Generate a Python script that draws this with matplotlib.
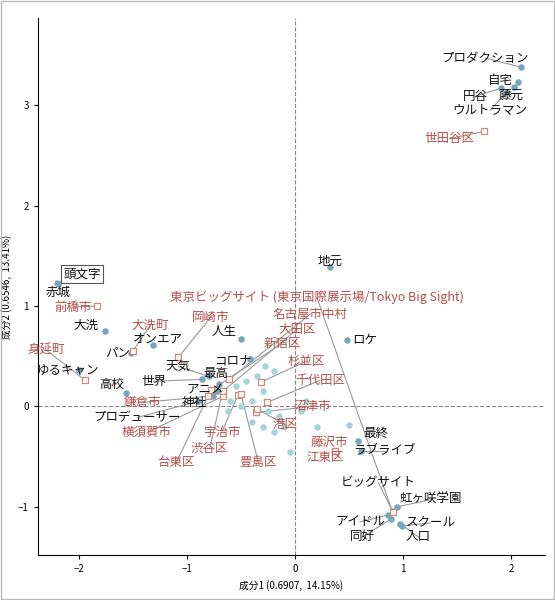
import matplotlib
matplotlib.use("Agg")
import matplotlib.pyplot as plt
import numpy as np

plt.rcParams['font.family'] = ['Noto Sans CJK JP', 'DejaVu Sans']

# word points (blue)
words = ["プロダクション","自宅","円谷","藤元","ウルトラマン","地元","ロケ","人生","頭文字","赤城","大洗",
         "オンエア","パン","ゆるキャン","高校","天気","世界","コロナ","最高","アニメ","神社","プロデューサー",
         "最終","ラブライブ","ビッグサイト","虹ヶ咲学園","アイドル","同好","スクール","入口"]
wx = [2.09,2.06,1.90,2.02,1.96,0.32,0.48,-0.50,-2.20,-2.19,-1.76,-1.31,-1.52,-2.00,-1.56,-0.80,-0.86,-0.42,-0.70,-0.72,-0.76,-0.90,
      0.58,0.61,0.90,0.94,0.86,0.89,0.99,0.97]
wy = [3.38,3.23,3.17,3.18,3.13,1.39,0.66,0.67,1.23,1.22,0.75,0.61,0.53,0.36,0.13,0.30,0.27,0.47,0.22,0.15,0.10,0.05,
      -0.34,-0.44,-1.04,-1.00,-1.08,-1.12,-1.19,-1.17]
wlx = [1.76,1.90,1.67,2.00,1.80,0.32,0.64,-0.66,-1.97,-2.19,-1.93,-1.27,-1.64,-2.10,-1.70,-1.08,-1.31,-0.58,-0.73,-0.83,-0.93,-1.46,
       0.75,0.83,0.77,1.25,0.60,0.62,1.25,1.14]
wly = [3.47,3.25,3.09,3.10,2.95,1.45,0.66,0.75,1.32,1.14,0.81,0.67,0.53,0.36,0.22,0.40,0.25,0.45,0.33,0.17,0.04,-0.11,
       -0.27,-0.44,-0.76,-0.93,-1.15,-1.30,-1.16,-1.30]

# unlabeled words (light dots)
cx = [-0.42,-0.35,-0.30,-0.20,-0.40,-0.25,-0.15,-0.30,-0.40,-0.20,-0.10,-0.50,0.05,0.20,0.50,-0.05,-0.60,-0.55,0.10,-0.62,-0.45,-0.28]
cy = [0.47,0.30,0.15,0.35,0.05,-0.05,-0.10,-0.20,-0.15,-0.25,-0.20,0.00,-0.05,-0.20,-0.18,-0.45,0.05,0.20,0.05,-0.05,0.25,0.40]

# places (red squares)
places = ["世田谷区","東京ビッグサイト (東京国際展示場/Tokyo Big Sight)","前橋市","大洗町","身延町","岡崎市","名古屋市中村",
          "大田区","新宿区","杉並区","千代田区","沼津市","港区","藤沢市","江東区","鎌倉市","横須賀市","宇治市","渋谷区","台東区","豊島区"]
px_ = [1.75,0.90,-1.83,-1.50,-1.94,-1.08,-0.61,-0.67,-0.78,-0.32,-0.26,-0.36,-0.35,0.37,0.37,-0.81,-0.67,-0.53,-0.67,-0.78,-0.50]
py_ = [2.74,-1.05,1.00,0.55,0.26,0.49,0.27,0.15,0.16,0.24,0.04,-0.06,-0.03,-0.44,-0.44,0.10,0.10,0.11,0.15,0.16,0.12]
plx = [1.43,0.20,-2.05,-1.34,-2.30,-0.78,0.14,0.02,-0.12,0.10,0.23,0.16,-0.09,0.32,0.28,-1.41,-1.37,-0.68,-0.79,-1.10,-0.34]
ply = [2.67,1.09,0.99,0.81,0.56,0.89,0.92,0.77,0.63,0.45,0.26,0.00,-0.18,-0.36,-0.51,0.04,-0.26,-0.26,-0.42,-0.56,-0.56]

RED = '#b5504c'
fig = plt.figure(figsize=(5.55, 6), dpi=100)
ax = fig.add_axes([0.068, 0.075, 0.914, 0.895])
ax.set_xlim(-2.38, 2.31)
ax.set_ylim(-1.48, 3.87)
ax.axhline(0, color='#888888', ls='--', lw=0.8, zorder=0)
ax.axvline(0, color='#888888', ls='--', lw=0.8, zorder=0)

def leader(x, y, lx, ly):
    p = ax.transData.transform((x, y)); q = ax.transData.transform((lx, ly))
    if np.hypot(*(p - q)) > 22:
        ax.plot([x, lx], [y, ly], color='#999999', lw=0.8, zorder=1)

ax.scatter(cx, cy, s=22, color='#a9d3d9', zorder=2, linewidths=0)
ax.scatter(wx, wy, s=22, color='#7aa6bd', zorder=3, linewidths=0)
ax.scatter(px_, py_, s=18, marker='s', facecolor='white', edgecolor='#d08a7c', lw=0.9, zorder=4)

for n, x, y, lx, ly in zip(words, wx, wy, wlx, wly):
    leader(x, y, lx, ly)
    kw = {}
    if n == "頭文字":
        kw['bbox'] = dict(boxstyle='square,pad=0.2', fc='white', ec='#555555', lw=0.8)
    ax.text(lx, ly, n, ha='center', va='center', fontsize=9, color='#111111', zorder=5, **kw)
for n, x, y, lx, ly in zip(places, px_, py_, plx, ply):
    leader(x, y, lx, ly)
    ax.text(lx, ly, n, ha='center', va='center', fontsize=9, color=RED, zorder=5)

ax.set_xticks([-2, -1, 0, 1, 2]); ax.set_yticks([-1, 0, 1, 2, 3])
ax.tick_params(labelsize=7, length=3)
for s in ['top', 'right']:
    ax.spines[s].set_visible(False)
ax.set_xlabel("成分1 (0.6907,  14.15%)", fontsize=7)
ax.set_ylabel("成分2 (0.6546,  13.41%)", fontsize=7)
fig.patches.append(plt.Rectangle((0.002, 0.002), 0.996, 0.996, transform=fig.transFigure,
                                 fill=False, ec='#bbbbbb', lw=1))
fig.savefig("out.png", dpi=100)
